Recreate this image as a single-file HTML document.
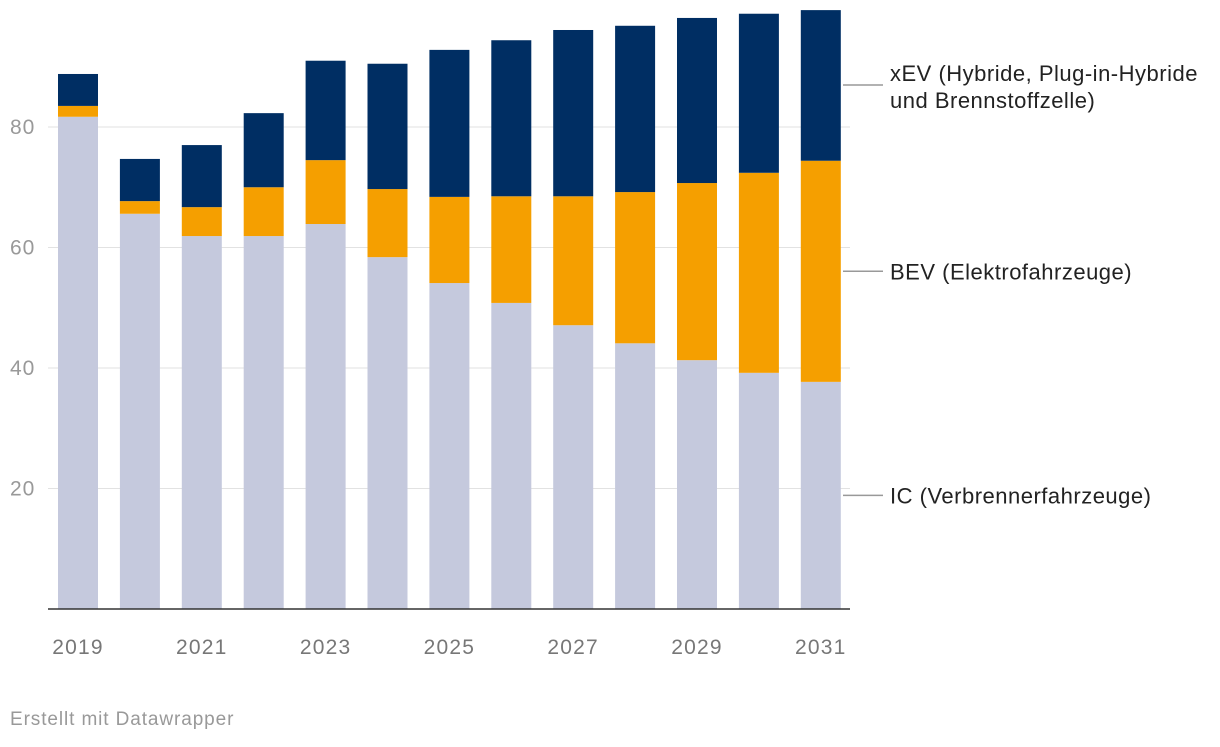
<!DOCTYPE html>
<html><head><meta charset="utf-8"><style>
body{margin:0;background:#fff;width:1220px;height:742px;overflow:hidden;font-family:"Liberation Sans",sans-serif}
svg text{font-family:"Liberation Sans",sans-serif}
</style></head><body>
<svg id="chart" width="1220" height="742" xmlns="http://www.w3.org/2000/svg"></svg>
<script>
const years=[2019,2020,2021,2022,2023,2024,2025,2026,2027,2028,2029,2030,2031];
const icValues=[81.7,65.6,61.9,61.9,63.9,58.4,54.1,50.8,47.1,44.1,41.3,39.2,37.7];
const bevValues=[1.8,2.1,4.8,8.1,10.6,11.3,14.3,17.7,21.4,25.1,29.4,33.2,36.7];
const xevValues=[5.3,7.0,10.3,12.3,16.5,20.8,24.4,25.9,27.6,27.6,27.4,26.4,25.0];
const yTicks=[20,40,60,80];
const xTickLabels=["2019","2021","2023","2025","2027","2029","2031"];
const seriesNames=["IC (Verbrennerfahrzeuge)","BEV (Elektrofahrzeuge)","xEV (Hybride, Plug-in-Hybride|und Brennstoffzelle)"];

const NS="http://www.w3.org/2000/svg";
const svg=document.getElementById('chart');
const y0=609, pxPerUnit=6.025, x0=78, step=61.9, bw=40;
const yS=v=>y0-v*pxPerUnit;
const xS=i=>x0+i*step;
function mk(tag,attrs,parent){const e=document.createElementNS(NS,tag);for(const k in attrs)e.setAttribute(k,attrs[k]);(parent||svg).appendChild(e);return e;}

yTicks.forEach(t=>{
  const g=mk('line',{x1:48,x2:850,y1:yS(t),y2:yS(t),stroke:'#e2e2e2','stroke-width':1});
  
  
  const l=mk('text',{x:10,y:yS(t)+7,'font-size':21,'letter-spacing':1,fill:'#999'});
  l.textContent=t;
  
  
});

const colors=['#c5c9dd','#f59f00','#002e63'];
const series=[icValues,bevValues,xevValues];
const sNames=['ic','bev','xev'];
years.forEach((yr,i)=>{
  let base=0;
  series.forEach((arr,s)=>{
    const v=arr[i];
    const r=mk('rect',{x:xS(i)-bw/2,y:yS(base+v),width:bw,height:v*pxPerUnit,fill:colors[s]});
    
    
    base+=v;
  });
});

const ax=mk('line',{x1:48,x2:850,y1:y0,y2:y0,stroke:'#333','stroke-width':1.5});



xTickLabels.forEach(lbl=>{
  const i=years.indexOf(+lbl);
  const t=mk('text',{x:xS(i),y:654,'font-size':21,'letter-spacing':1.2,fill:'#777','text-anchor':'middle'});
  t.textContent=lbl;
  
  
});

let base=0;
series.forEach((arr,s)=>{
  const v=arr[years.length-1];
  const mid=yS(base+v/2);
  base+=v;
  const ly = s===2 ? 85 : mid;
  const ln=mk('line',{x1:843,x2:883,y1:ly,y2:ly,stroke:'#999','stroke-width':1.5});
  
  
  const parts=seriesNames[s].split('|');
  const t=mk('text',{x:890,y:(s===2?ly-4:ly+8),'font-size':22,'letter-spacing':0.5,fill:'#222'});
  parts.forEach((p,k)=>{const ts=mk('tspan',{x:890,dy:k?27:0},t);ts.textContent=p;});
  
  
});

const f=mk('text',{x:10,y:725,'font-size':19,'letter-spacing':0.9,fill:'#999'});
f.textContent='Erstellt mit Datawrapper';


</script>
</body></html>
